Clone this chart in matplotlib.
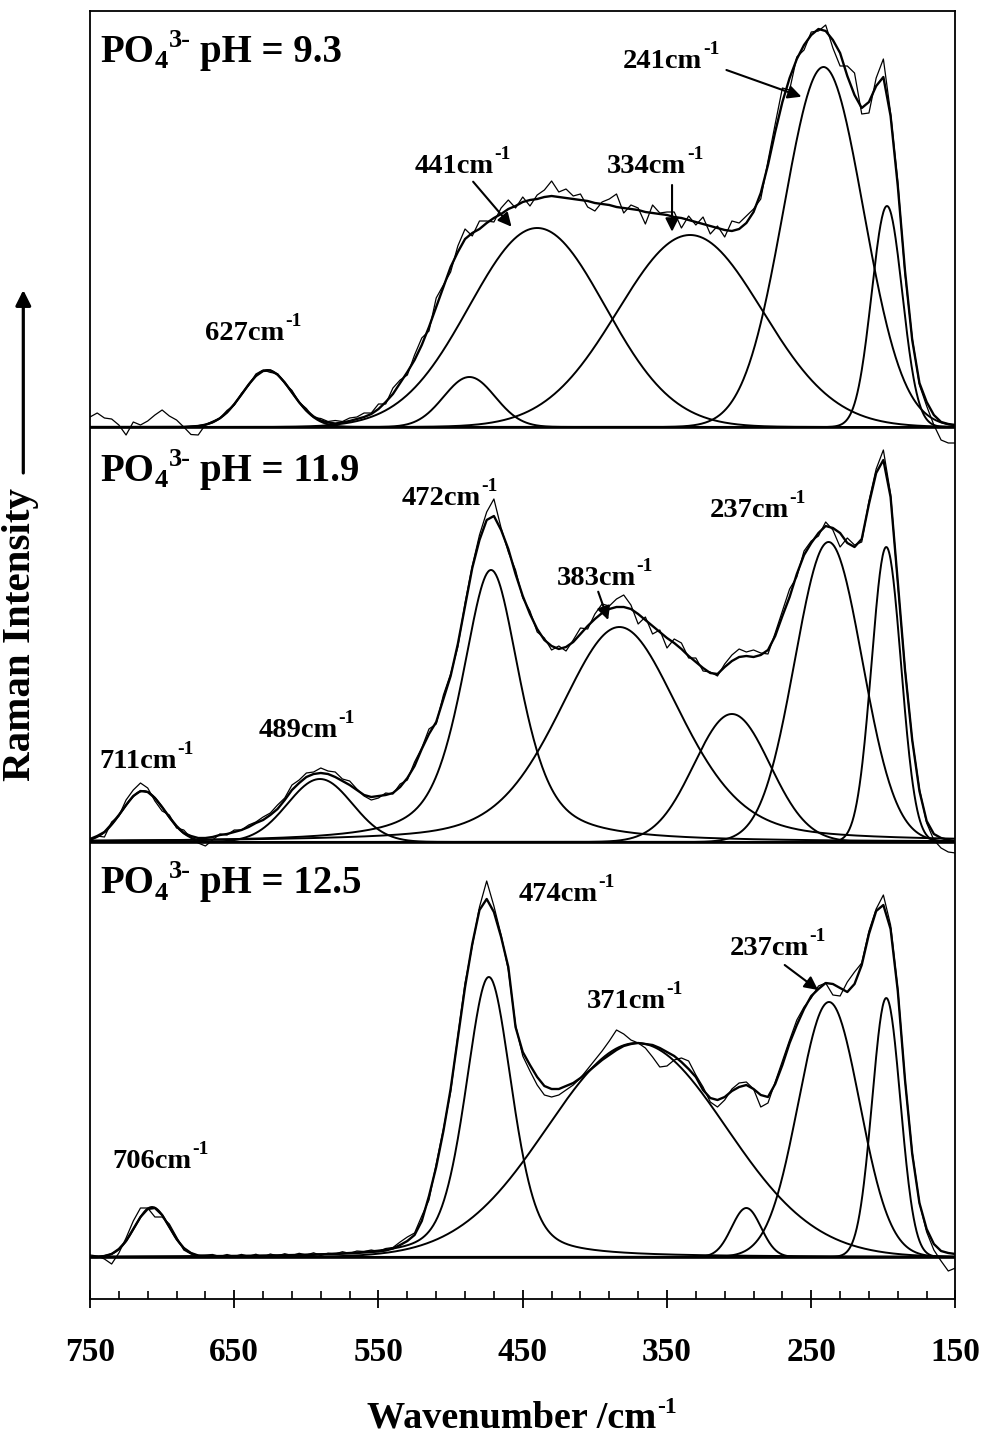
import numpy as np
import matplotlib
matplotlib.use("Agg")
import matplotlib.pyplot as plt
from matplotlib.ticker import FixedLocator
from matplotlib.transforms import IdentityTransform

plt.rcParams['font.family'] = ['Liberation Serif', 'DejaVu Serif']
plt.rcParams['font.weight'] = 'bold'

# ---------------- data ----------------
WAVENUMBER = np.arange(750, 149, -5)          # cm-1, 750 ... 150

# pH 9.3 : fitted envelope and (measured - fit)
FIT_93 = [0, 0, 0, 0, 0, 0, 0, 0, 0, 0, 0, 0, 0, 0, 0.5, 1, 2.3, 4.7, 8.7, 14.6,
          22.8, 32.5, 42.5, 51, 56, 56.6, 52.4, 44.5, 34.6, 24.7, 16.5, 10.5, 6.5, 4.5, 3.5, 4.5, 6, 8, 10, 13,
          18, 25, 33, 44, 55, 67, 82, 100, 120, 140, 160, 175, 188, 194, 198, 204, 209, 213, 218, 221,
          225, 227, 228, 230, 231, 230, 229, 228, 227, 226, 224, 223, 222, 220, 219, 218, 217, 215, 214, 213,
          212, 210, 209, 207, 205, 203, 201, 199, 197, 196, 198, 204, 215, 234, 262, 295, 325, 349, 368, 382,
          392, 398, 396, 387, 374, 351, 332, 319, 325, 341, 350, 311, 241, 156, 87, 44, 25, 12, 5, 3, 2]
RESID_93 = [10, 14, 9, 8, 2, -8, 5, 2, 6, 12, 17, 11, 7, 0, -8, -9, 0, 1, 0, 2,
            -1, 1, -1, 2, 1, -2, 1, -1, 2, 0, 2, -1, 2, 1, 3, 1, 3, 2, 4, 1,
            5, -2, 6, 3, -3, 5, 7, -4, 9, 2, -5, 6, 10, -3, 8, 2, -4, 6, 9, -2,
            5, -6, 4, 7, 15, 5, 9, 3, 6, -6, -8, 2, 6, 13, -5, 4, 2, -12, 8, 1,
            3, 5, -10, 4, -3, 7, -8, 2, -7, 10, 6, 7, 3, -6, 4, 8, 14, -12, 2, -5,
            3, -2, 6, -8, -13, 10, 22, -6, -11, 8, 18, 3, 4, -3, 2, -2, -4, -10, -18, -19, -18]
PEAK_C_93 = [627, 487, 440, 334, 241.5, 197.5]
PEAK_H_93 = [57, 50, 199, 192, 360, 221]
PEAK_W_93 = [40, 42, 111, 118, 65, 25]
PEAK_ETA_93 = [0, 0, 0, 0, 0, 0]

# pH 11.9
FIT_119 = [3, 6, 10, 18, 27, 37, 46, 51, 50, 44, 35, 25, 16, 9, 6, 4, 4, 5, 7, 8,
           10, 12, 15, 19, 22, 27, 33, 42, 52, 59, 65, 68, 69, 68, 65, 61, 57, 52, 47, 45,
           46, 47, 49, 55, 64, 76, 93, 108, 120, 143, 166, 198, 236, 274, 302, 322, 326, 312, 293, 268,
           246, 228, 213, 202, 196, 193, 195, 200, 208, 216, 223, 229, 233, 235, 235, 233, 228, 222, 216, 210,
           204, 199, 193, 186, 180, 174, 169, 168, 175, 181, 185, 186, 185, 187, 192, 206, 226, 245, 268, 287,
           299, 309, 316, 314, 309, 299, 295, 303, 338, 369, 382, 345, 260, 172, 102, 51, 21, 8, 4, 2, 1]
RESID_119 = [-2, 0, -5, 2, -1, 5, 6, 8, 4, -3, -4, 2, -2, 3, -2, -5, -8, -3, 1, -1,
             2, 0, 2, 1, 3, 2, 4, 2, 5, 3, 4, 2, 5, 3, 5, 2, 4, 1, -1, -3,
             -2, 2, -1, 3, -2, 4, 1, 5, -2, 4, 2, -3, 3, 2, 5, 8, 17, 2, -3, 4,
             -2, 3, -3, 2, -4, 3, -4, 2, 6, -3, 5, 9, 3, 8, 12, 4, -10, 3, -8, 2,
             -10, 4, 6, -2, 4, -3, 1, -2, 3, 6, 8, 4, 7, 2, -4, 3, 5, 8, -3, 4,
             2, -3, 4, -2, -14, 5, 2, -3, 3, 4, 10, 3, -2, 2, 0, 2, -2, -6, -10, -12, -12]
PEAK_C_119 = [713, 590.6, 472, 383, 305, 238, 198]
PEAK_H_119 = [51, 63, 272, 215, 128, 300, 295]
PEAK_W_119 = [35, 53, 48, 100, 62, 55, 24]
PEAK_ETA_119 = [0, 0, 0.6, 0.35, 0, 0, 0]

# pH 12.5
FIT_125 = [0, 0, 1, 3, 8, 16, 28, 40, 48, 49, 42, 30, 18, 9, 4, 1.5, 1, 0.5, 0.5, 0.5,
           0.5, 0.6, 0.7, 0.8, 0.9, 1, 1.1, 1.3, 1.5, 1.7, 2, 2.2, 2.5, 2.8, 3, 3.3, 3.6, 4, 4.5, 5,
           5.5, 6.5, 8.5, 12, 16, 22, 36, 61, 90, 126, 168, 219, 270, 313, 347, 358, 345, 320, 290, 230,
           205, 192, 180, 171, 168, 168, 171, 174, 179, 185, 191, 197, 202, 207, 211, 213, 214, 213, 212, 209,
           205, 201, 195, 188, 180, 167, 159, 157, 160, 166, 170, 172, 168, 162, 160, 173, 192, 214, 232, 248,
           261, 268, 274, 273, 269, 265, 273, 292, 323, 346, 352, 328, 266, 177, 103, 54, 28, 13, 6, 4, 3]
RESID_125 = [2, 1, -3, -10, -4, 3, 8, 9, 1, -9, -2, 3, 2, -2, -1, 0, 1, 2, 0, 2,
             0, 2, 0, 2, -1, 2, 0, 2, 0, 2, 0, 2, -1, 1, 0, 2, 0, 2, 1, 2,
             0, 2, 1, 3, 4, 2, 5, -4, 3, 2, -3, 2, 4, -2, 3, 18, 6, 2, -3, 2,
             -4, -6, -8, -9, -8, -6, -4, -2, 0, 3, 6, 9, 14, 20, 12, 4, 0, -4, -12, -19,
             -14, -4, 4, 8, 2, 3, -4, -7, -3, 2, 4, 3, 0, -12, -6, 2, 4, 3, 5, 2,
             -2, 3, 0, -11, -8, 10, 12, 2, 3, 2, 10, 4, 2, 0, 2, 0, -3, -6, -10, -18, -14]
PEAK_C_125 = [707, 473.5, 371, 295, 237.7, 198]
PEAK_H_125 = [50, 280, 214, 49, 255, 259]
PEAK_W_125 = [28, 38, 146, 24, 50, 23]
PEAK_ETA_125 = [0, 0.4, 0, 0, 0, 0]

PANEL_PH = ["9.3", "11.9", "12.5"]
PEAK_LABELS = ["627", "441", "334", "241", "711", "489", "472", "383", "237", "706", "474", "371", "237"]
XTICKS = [750, 650, 550, 450, 350, 250, 150]

# ---------------- layout ----------------
OFFSETS = [830, 415, 0]
FIG_W, FIG_H = 987, 1438


def pvoigt(x, c, h, f, eta):
    g = np.exp(-4 * np.log(2) * (x - c) ** 2 / f ** 2)
    l = 1.0 / (1 + 4 * (x - c) ** 2 / f ** 2)
    return h * (eta * l + (1 - eta) * g)


fig = plt.figure(figsize=(FIG_W / 100, FIG_H / 100), dpi=100)
ax = fig.add_axes([90 / FIG_W, (FIG_H - 1299.3) / FIG_H, (955.5 - 90) / FIG_W, (1299.3 - 11) / FIG_H])

panels = [
    (FIT_93, RESID_93, PEAK_C_93, PEAK_H_93, PEAK_W_93, PEAK_ETA_93),
    (FIT_119, RESID_119, PEAK_C_119, PEAK_H_119, PEAK_W_119, PEAK_ETA_119),
    (FIT_125, RESID_125, PEAK_C_125, PEAK_H_125, PEAK_W_125, PEAK_ETA_125),
]

xf = np.linspace(750, 150, 1201)
for (fit, resid, pc, ph, pw, pe), off in zip(panels, OFFSETS):
    ax.axhline(off, color='k', lw=1.9, zorder=2)
    for c, h, w, e in zip(pc, ph, pw, pe):
        ax.plot(xf, off + pvoigt(xf, c, h, w, e), color='k', lw=1.4, zorder=3)
    fit = np.asarray(fit, float)
    meas = fit + np.asarray(resid, float)
    ax.plot(WAVENUMBER, off + fit, color='k', lw=1.7, zorder=4)
    ax.plot(WAVENUMBER, off + meas, color='k', lw=0.9, zorder=5)

ax.set_xlim(750, 150)
ax.set_ylim(-42.3, 1246)
ax.set_yticks([])
ax.set_xticks(XTICKS)
ax.set_xticklabels([str(t) for t in XTICKS])
ax.xaxis.set_minor_locator(FixedLocator(np.arange(750, 149, -20)))
ax.tick_params(axis='x', which='major', direction='inout', length=12.7, width=1.3,
               pad=21.0, labelsize=24, top=False)
ax.tick_params(axis='x', which='minor', direction='in', length=5.5, width=1.2, top=False)
for s in ax.spines.values():
    s.set_linewidth(1.3)

renderer = fig.canvas.get_renderer()
IDT = IdentityTransform()


def seq_text(X, Y, pieces):
    """Draw text pieces one after another; X, Y in display pixels (baseline)."""
    for s, size, rise, gap in pieces:
        X += gap
        t = fig.text(X, Y + rise, s, fontsize=size, ha='left', va='baseline',
                     transform=IDT, zorder=8)
        X = t.get_window_extent(renderer).x1
    return X


def data_to_disp(x, y):
    return ax.transData.transform((x, y))

# panel titles (positions in data coords: left, baseline)
title_pos = [(742.6, 1195.3), (742.6, 776.3), (742.6, 363.7)]
for phv, (x, y) in zip(PANEL_PH, title_pos):
    X, Y = data_to_disp(x, y)
    seq_text(X, Y, [("PO", 28, 0, 0), ("4", 19, -6.7, 0.5), ("3-", 19, 15, 0.5),
                    ("pH = " + phv, 28, 0, 9)])

# peak labels
label_pos = [(670.1, 917.0), (525.3, 1083.7), (391.5, 1083.7), (380.4, 1188.7),
             (743.5, 488.7), (632.9, 520.3), (534.0, 752.0), (426.6, 672.0), (320.3, 740.3),
             (734.3, 88.7), (453.2, 356.3), (405.4, 248.7), (306.5, 302.0)]
for num, (x, y) in zip(PEAK_LABELS, label_pos):
    X, Y = data_to_disp(x, y)
    seq_text(X, Y, [(num + "cm", 20.5, 0, 0), ("-1", 14, 14, 0.5)])

ARROWS = [
    ((484.4, 1075.3), (457.8, 1030.3)),
    ((346.5, 1072.0), (346.5, 1025.3)),
    ((308.8, 1187.0), (256.8, 1160.3)),
    ((397.7, 665.3), (390.8, 637.0)),
    ((268.4, 292.0), (245.3, 267.0)),
]
for start, end in ARROWS:
    ax.annotate('', xy=end, xytext=start,
                arrowprops=dict(arrowstyle='-|>', color='k', lw=1.5, mutation_scale=20,
                                shrinkA=0, shrinkB=0), zorder=7)

# axis labels (pixel positions measured from top-left of the image)
seq_text(367.0, FIG_H - 1428, [("Wavenumber /cm", 27.5, 0, 0), ("-1", 17, 14.7, 0.5)])
fig.text(21 / FIG_W, 1 - 635 / FIG_H, "Raman Intensity", fontsize=29.5, rotation=90,
         ha='center', va='center')
ax.annotate('', xy=(23.3 / FIG_W, 1 - 290 / FIG_H), xytext=(23.3 / FIG_W, 1 - 473 / FIG_H),
            xycoords='figure fraction', textcoords='figure fraction',
            arrowprops=dict(arrowstyle='-|>', color='k', lw=2.3, mutation_scale=23,
                            shrinkA=0, shrinkB=0), annotation_clip=False)

fig.savefig("out.png", dpi=100)
